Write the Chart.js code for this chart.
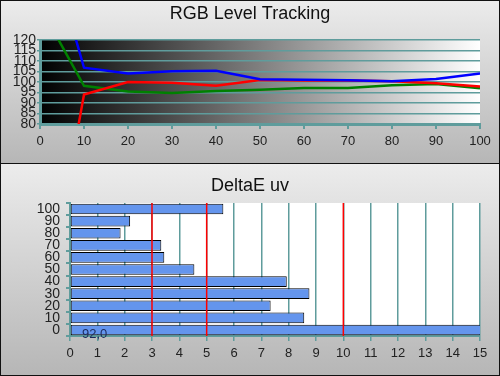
<!DOCTYPE html>
<html>
<head>
<meta charset="utf-8">
<script src="https://cdn.jsdelivr.net/npm/chart.js@4.4.1/dist/chart.umd.min.js"></script>
<style>
  body { margin: 0; background: #fff; }
  #wrap { position: relative; width: 500px; height: 376px; overflow: hidden; }
  .panel { position: absolute; left: 0; width: 500px; background: linear-gradient(#ececec, #b6b6b6); }
  #topPanel { top: 0; height: 164px; }
  #bottomPanel { top: 164px; height: 212px; }
  canvas { position: absolute; left: 0; top: 0; }
  #frame { position: absolute; left: 0; top: 0; width: 500px; height: 376px; box-sizing: border-box; border: 1px solid #111; pointer-events: none; }
  #divider { position: absolute; left: 0; top: 163px; width: 500px; height: 1px; background: #111; }
</style>
</head>
<body>
<div id="wrap">
  <div class="panel" id="topPanel"><canvas id="levelChart" width="500" height="164"></canvas></div>
  <div class="panel" id="bottomPanel"><canvas id="deltaChart" width="500" height="212"></canvas></div>
  <div id="divider"></div>
  <div id="frame"></div>
</div>
<script>
// stimulus levels (% of white)
const levels = [0, 10, 20, 30, 40, 50, 60, 70, 80, 90, 100];

// RGB level tracking, % of target
const redLevel = [-22, 94, 100, 99.7, 98.2, 100.9, 100.7, 100.7, 100.4, 99.4, 97.8];
const greenLevel = [136, 98.2, 95.5, 94.8, 95.7, 96.3, 97.1, 97.1, 98.4, 99, 97];
const blueLevel = [180, 106.8, 104, 105.1, 105.3, 101.3, 101.1, 100.8, 100.3, 101.4, 104];

// DeltaE uv per level
const deltaE = [92.0, 8.57, 7.34, 8.76, 7.93, 4.55, 3.45, 3.34, 1.85, 2.2, 5.61];
const limitValues = [3, 5, 10];

const teal = '#5f9c9c';
const family = "'Liberation Sans', Arial, sans-serif";
const tickFont = { family: family, size: 13 };

// titles centred on the whole canvas
const panelTitle = {
  id: 'panelTitle',
  afterDraw(chart, args, opts) {
    const ctx = chart.ctx;
    ctx.save();
    ctx.font = '18px ' + family;
    ctx.fillStyle = '#111';
    ctx.textAlign = 'center';
    ctx.textBaseline = 'middle';
    ctx.fillText(opts.text, chart.width / 2, opts.y);
    ctx.restore();
  }
};

const areaFill = {
  id: 'areaFill',
  beforeDraw(chart, args, opts) {
    const { ctx, chartArea: a } = chart;
    ctx.save();
    if (opts.gradient) {
      const g = ctx.createLinearGradient(a.left, 0, a.right, 0);
      g.addColorStop(0, '#000');
      g.addColorStop(1, '#fff');
      ctx.fillStyle = g;
    } else {
      ctx.fillStyle = opts.color;
    }
    ctx.fillRect(a.left, a.top, a.right - a.left, a.bottom - a.top);
    ctx.restore();
  }
};

const limitLines = {
  id: 'limitLines',
  afterDatasetsDraw(chart, args, opts) {
    const { ctx, chartArea: a, scales } = chart;
    ctx.save();
    ctx.strokeStyle = '#ff0000';
    ctx.lineWidth = 1.5;
    opts.values.forEach(v => {
      const px = scales.x.getPixelForValue(v);
      ctx.beginPath();
      ctx.moveTo(px, a.top);
      ctx.lineTo(px, a.bottom);
      ctx.stroke();
    });
    // bars running off the scale get their value written inside
    ctx.font = '13px ' + family;
    ctx.fillStyle = '#1c2b5c';
    ctx.textAlign = 'left';
    ctx.textBaseline = 'middle';
    deltaE.forEach((v, i) => {
      if (v > scales.x.max) {
        const py = scales.y.getPixelForValue(i);
        ctx.fillText(v.toFixed(1).replace('.', ','), a.left + 12, py + 4);
      }
    });
    ctx.restore();
  }
};

new Chart(document.getElementById('levelChart'), {
  type: 'line',
  data: {
    datasets: [
      { label: 'Blue', data: levels.map((l, i) => ({ x: l, y: blueLevel[i] })), borderColor: '#0000ff' },
      { label: 'Red', data: levels.map((l, i) => ({ x: l, y: redLevel[i] })), borderColor: '#ff0000' },
      { label: 'Green', data: levels.map((l, i) => ({ x: l, y: greenLevel[i] })), borderColor: '#008000' },
    ],
  },
  options: {
    responsive: false,
    animation: false,
    layout: { padding: { top: 40, right: 20, left: 0, bottom: 0 } },
    elements: { line: { borderWidth: 2.5, tension: 0 }, point: { radius: 0 } },
    scales: {
      x: {
        type: 'linear',
        min: 0,
        max: 100,
        ticks: { stepSize: 10, color: '#222', font: tickFont, padding: 5 },
        grid: { drawOnChartArea: false, color: teal, lineWidth: 2, tickLength: 5 },
        border: { color: teal, width: 3 },
        afterFit(s) { s.height = 40; },
      },
      y: {
        min: 80,
        max: 120,
        ticks: { stepSize: 5, autoSkip: false, color: '#222', font: { family: family, size: 14 }, padding: 1 },
        grid: { color: teal, lineWidth: 1.5, tickLength: 3 },
        border: { color: teal, width: 3 },
        afterFit(s) { s.width = 40; },
      },
    },
    plugins: {
      legend: { display: false },
      tooltip: { enabled: false },
      panelTitle: { text: 'RGB Level Tracking', y: 14 },
      areaFill: { gradient: true },
    },
  },
  plugins: [areaFill, panelTitle],
});

new Chart(document.getElementById('deltaChart'), {
  type: 'bar',
  data: {
    labels: levels.map(String),
    datasets: [
      {
        data: deltaE,
        backgroundColor: '#6495ed',
        borderColor: '#000',
        borderWidth: 1,
        borderSkipped: false,
        barPercentage: 0.88,
        categoryPercentage: 1,
      },
    ],
  },
  options: {
    indexAxis: 'y',
    responsive: false,
    animation: false,
    layout: { padding: { top: 39, right: 20, left: 0, bottom: 0 } },
    scales: {
      x: {
        min: 0,
        max: 15,
        ticks: { stepSize: 1, color: '#222', font: tickFont, padding: 5 },
        grid: { color: teal, lineWidth: 1.5, tickLength: 5 },
        border: { color: teal, width: 2 },
        afterFit(s) { s.height = 40; },
      },
      y: {
        reverse: true,
        ticks: { autoSkip: false, color: '#222', font: { family: family, size: 14 }, padding: 6 },
        grid: { drawOnChartArea: false, color: teal, lineWidth: 2, tickLength: 4 },
        border: { color: teal, width: 2 },
        afterFit(s) { s.width = 70; },
      },
    },
    plugins: {
      legend: { display: false },
      tooltip: { enabled: false },
      panelTitle: { text: 'DeltaE uv', y: 22 },
      areaFill: { color: '#ffffff' },
      limitLines: { values: limitValues },
    },
  },
  plugins: [areaFill, limitLines, panelTitle],
});
</script>
</body>
</html>
